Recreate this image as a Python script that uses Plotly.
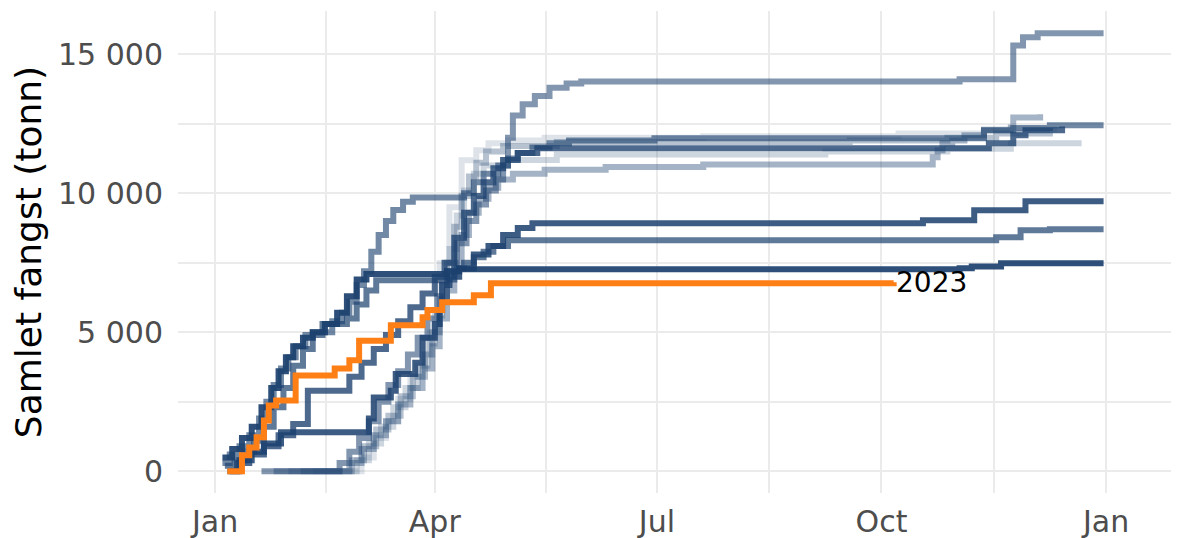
import pandas as pd
import plotly.graph_objects as go

# ---------------- data (day of season since 1 Jan, cumulative catch in tonnes) -------------
y2013_days = [40, 57, 60, 65, 70, 75, 80, 85, 88, 92, 96, 101, 107, 112, 120, 135, 200, 280, 315, 345]
y2013_vals = [0, 0, 500, 1200, 1800, 2600, 3400, 4200, 5000, 7480, 9500, 11190, 11550, 11800, 11900, 12000, 12050, 12150, 12300, 12300]

y2014_days = [30, 55, 58, 63, 68, 73, 78, 83, 87, 90, 93, 96, 99, 102, 106, 110, 118, 140, 250, 300, 326, 355]
y2014_vals = [0, 0, 400, 1000, 1600, 2300, 3000, 3800, 4600, 5600, 6800, 8000, 9200, 10100, 10700, 11000, 11200, 11400, 11500, 11600, 11800, 11800]

y2015_days = [35, 53, 56, 61, 66, 71, 76, 81, 86, 89, 92, 95, 98, 101, 104, 107, 111, 118, 140, 260, 300, 320, 342]
y2015_vals = [0, 0, 400, 900, 1500, 2000, 2700, 3400, 4200, 5000, 6200, 7500, 8800, 9900, 10600, 11100, 11500, 11700, 11850, 11900, 12000, 12150, 12200]

y2016_days = [24, 52, 55, 60, 65, 70, 75, 80, 85, 89, 92, 95, 98, 101, 104, 108, 112, 116, 122, 135, 160, 200,
              294, 296, 298, 302, 307, 315, 326, 327, 338]
y2016_vals = [0, 0, 300, 800, 1300, 1800, 2400, 3000, 3700, 4500, 5500, 6500, 7500, 8500, 9300, 9800, 10200, 10500, 10700, 10850, 10950, 11040,
              11300, 11550, 11800, 11900, 12090, 12270, 12370, 12730, 12842]

y2017_days = [19, 50, 51, 55, 59, 63, 67, 71, 75, 79, 83, 87, 91, 95, 99, 103, 107, 111, 115, 118, 120, 122, 126, 131, 137, 144, 150,
              305, 327, 331, 337, 364]
y2017_vals = [0, 0, 300, 700, 1200, 1800, 2500, 3100, 3600, 4200, 4800, 5500, 6300, 7200, 8200, 9000, 9600, 10100, 10500, 11000, 12000, 12800, 13200, 13500, 13800, 13950, 14020,
              14100, 15320, 15610, 15755, 15755]

y2018_days = [3, 6, 10, 14, 18, 21, 24, 27, 30, 33, 37, 40, 44, 48, 52, 55, 58, 61, 64, 67, 70, 73, 77, 81,
              102, 106, 110, 116, 120, 124, 130, 137, 145, 180, 315, 327, 342, 364]
y2018_vals = [300, 600, 900, 1300, 1900, 2500, 3100, 3700, 4100, 4500, 4900, 5000, 5000, 5400, 5700, 6100, 6700, 7200, 7900, 8500, 9000, 9400, 9700, 9850,
              10000, 10400, 10700, 11000, 11250, 11450, 11650, 11800, 11900, 11980, 12270, 12350, 12446, 12446]

y2019_days = [4, 8, 12, 16, 20, 24, 28, 32, 36, 40, 44, 54, 58, 62, 66, 94, 98, 102, 106, 110, 114, 120, 320, 330, 342, 364]
y2019_vals = [200, 400, 700, 1100, 1600, 2300, 3000, 3800, 4400, 4900, 5300, 5500, 6000, 6500, 6870, 6900, 7300, 7500, 7700, 7900, 8100, 8310, 8420, 8670, 8705, 8705]

y2020_days = [5, 9, 14, 20, 26, 32, 38, 44, 50, 55, 60, 65, 70, 75, 80, 85, 90, 94, 98, 102, 106, 110, 114, 118, 124, 132,
              317, 327, 332, 347]
y2020_vals = [0, 300, 600, 900, 1300, 1700, 2900, 2900, 2900, 3400, 3900, 4400, 4900, 5400, 5900, 6400, 7000, 7500, 8400, 9300, 9900, 10400, 10900, 11200, 11450, 11620,
              11800, 12090, 12270, 12400]

y2021_days = [6, 10, 15, 20, 27, 48, 63, 65, 72, 74, 82, 85, 90, 92, 93, 96, 100, 106, 112, 118, 124, 130, 290, 311, 332, 364]
y2021_vals = [0, 400, 700, 1000, 1400, 1400, 1900, 2650, 2900, 3500, 3900, 4800, 5300, 5800, 6700, 7000, 7300, 7800, 8100, 8500, 8750, 8920, 9030, 9390, 9712, 9712]

y2022_days = [3, 7, 11, 15, 19, 23, 26, 29, 32, 36, 40, 45, 50, 54, 58, 62, 95, 100, 305, 310, 322, 364]
y2022_vals = [500, 800, 1200, 1600, 2300, 3000, 3600, 4100, 4500, 4800, 5000, 5300, 5700, 6300, 6900, 7100, 7200, 7270, 7300, 7370, 7480, 7480]

y2023_days = [5, 11, 14, 17, 20, 22, 25, 33, 49, 55, 59, 72, 85, 87, 93, 106, 113, 278]
y2023_vals = [0, 580, 860, 1220, 1830, 2370, 2550, 3450, 3700, 3990, 4700, 5250, 5540, 5800, 6080, 6330, 6760, 6800]

history_years = [2013, 2014, 2015, 2016, 2017, 2018, 2019, 2020, 2021, 2022]
history_days = [y2013_days, y2014_days, y2015_days, y2016_days, y2017_days,
                y2018_days, y2019_days, y2020_days, y2021_days, y2022_days]
history_vals = [y2013_vals, y2014_vals, y2015_vals, y2016_vals, y2017_vals,
                y2018_vals, y2019_vals, y2020_vals, y2021_vals, y2022_vals]
history_alpha = [0.15, 0.22, 0.32, 0.40, 0.55, 0.62, 0.70, 0.78, 0.85, 0.92]

y_tick_vals = [0, 5000, 10000, 15000]
y_tick_text = ["0", "5 000", "10 000", "15 000"]
x_tick_vals = ["2023-01-01", "2023-04-01", "2023-07-01", "2023-10-01", "2024-01-01"]
x_tick_text = ["Jan", "Apr", "Jul", "Oct", "Jan"]
x_minor_vals = ["2023-02-15 12:00", "2023-05-16 12:00", "2023-08-16", "2023-11-16"]
y_minor_vals = [2500, 7500, 12500]

# ---------------- figure ----------------
start = pd.Timestamp("2023-01-01")


def to_dates(days):
    return [start + pd.Timedelta(days=d) for d in days]


fig = go.Figure()
for yr, d, v, a in zip(history_years, history_days, history_vals, history_alpha):
    fig.add_trace(go.Scatter(
        x=to_dates(d), y=v, mode="lines", name=str(yr),
        line=dict(shape="hv", width=6, color=f"rgba(27,64,110,{a})"),
        showlegend=False,
    ))

fig.add_trace(go.Scatter(
    x=to_dates(y2023_days), y=y2023_vals, mode="lines", name="2023",
    line=dict(shape="hv", width=6, color="#ff7f17"),
    showlegend=False,
))

fig.add_annotation(
    x=to_dates(y2023_days)[-1], y=y2023_vals[-1], text="2023",
    showarrow=False, xanchor="left", yanchor="middle", xshift=0,
    font=dict(family="DejaVu Sans", size=28, color="black"),
)

# the page body has an 8px default margin, so the figure is sized to fit the window
fig.update_layout(
    width=1171, height=530,
    margin=dict(l=170, r=0, t=3, b=45),
    plot_bgcolor="white", paper_bgcolor="white",
    font=dict(family="DejaVu Sans", color="#4d4d4d"),
    showlegend=False,
)

fig.update_xaxes(
    range=[start + pd.Timedelta(days=-15.2), start + pd.Timedelta(days=394.9)],
    tickmode="array", tickvals=x_tick_vals, ticktext=x_tick_text,
    tickfont=dict(size=30, color="#4d4d4d"),
    ticks="", showline=False, zeroline=False,
    showgrid=True, gridcolor="#ebebeb", gridwidth=2,
    minor=dict(tickmode="array", tickvals=x_minor_vals, showgrid=True,
               gridcolor="#ebebeb", gridwidth=1.5),
    ticklabelstandoff=8, automargin=False,
)

fig.update_yaxes(
    range=[-781, 16558],
    tickmode="array", tickvals=y_tick_vals, ticktext=y_tick_text,
    tickfont=dict(size=30, color="#4d4d4d"),
    ticks="", showline=False, zeroline=False,
    showgrid=True, gridcolor="#ebebeb", gridwidth=2,
    minor=dict(tickmode="array", tickvals=y_minor_vals, showgrid=True,
               gridcolor="#ebebeb", gridwidth=1.5),
    ticklabelstandoff=14, automargin=False,
    title=dict(text="Samlet fangst (tonn)", font=dict(size=36, color="black"), standoff=12),
)

fig.write_html("out.html")
